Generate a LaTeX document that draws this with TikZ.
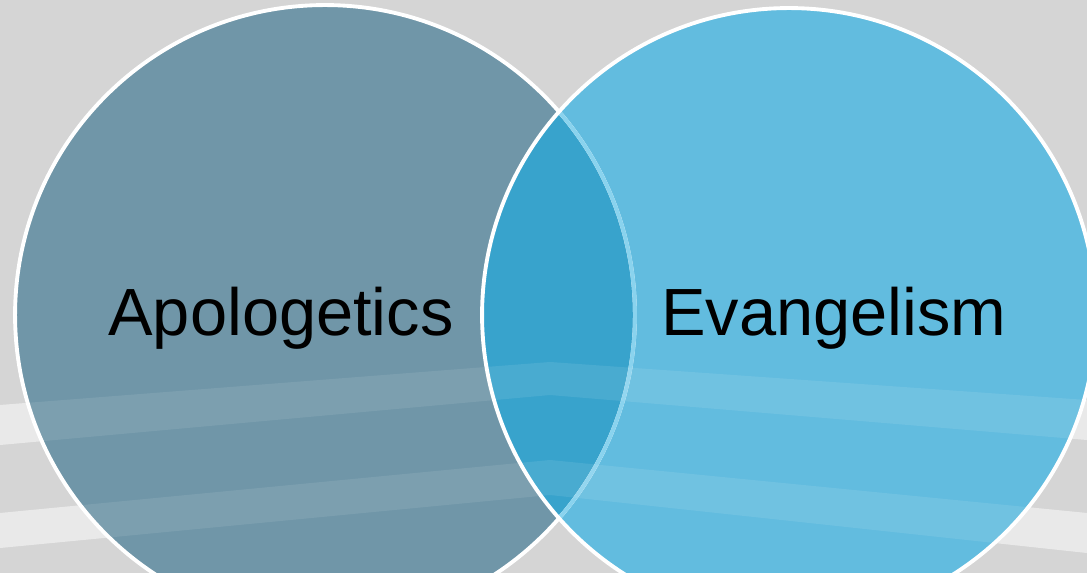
\documentclass[tikz,border=0pt]{standalone}
\usepackage{fontspec}
\setmainfont{Liberation Sans}
\usetikzlibrary{positioning}
\definecolor{bggrey}{RGB}{213,213,213}
\definecolor{apolblue}{RGB}{112,150,168}
\definecolor{evanblue}{RGB}{98,188,223}
\definecolor{bothblue}{RGB}{56,163,204}
\definecolor{rimblue}{RGB}{138,211,238}
\tikzset{venn/.style={circle,inner sep=0pt,outer sep=0pt},
rim/.style={draw=white,line width=2.2pt},
vennlabel/.style={anchor=base,font=\fontsize{38}{44}\selectfont,text=black}}

\begin{document}
\begin{tikzpicture}[x=0.02cm,y=-0.02cm]
\useasboundingbox (0,0) rectangle (1087,573);
\fill[bggrey] (0,0) rectangle (1087,573);
% light steps behind
\foreach \a/\b/\c/\d/\e/\f in {405/362/400/445/395/440, 513/460/513/548/495/553} {
\fill[white,opacity=0.45] (0,\a) -- (550,\b) -- (1087,\c) -- (1087,\f) -- (550,\e) -- (0,\d) -- cycle;
}
\node (apol) at (325,315) [venn,fill=apolblue,minimum size=12.4cm] {};
\node (evan) at (789,315) [venn,fill=evanblue,minimum size=12.28cm] {};
\begin{scope}
\clip (apol.center) circle (6.2cm);
\fill[bothblue] (evan.center) circle (6.14cm);
\end{scope}
\draw[rim] (apol.center) circle (6.2cm);
\begin{scope}
\clip (evan.center) circle (6.14cm);
\draw[rim,draw=rimblue] (apol.center) circle (6.2cm);
\end{scope}
\draw[rim] (evan.center) circle (6.14cm);
% faint steps showing through
\foreach \a/\b/\c/\d/\e/\f in {405/362/400/445/395/440, 513/460/513/548/495/553} {
\fill[white,opacity=0.09] (0,\a) -- (550,\b) -- (1087,\c) -- (1087,\f) -- (550,\e) -- (0,\d) -- cycle;
}
\node (apoltext) at (281,336) [vennlabel] {Apologetics};
\node (evantext) at (834,336) [vennlabel] {Evangelism};
\end{tikzpicture}
\end{document}
